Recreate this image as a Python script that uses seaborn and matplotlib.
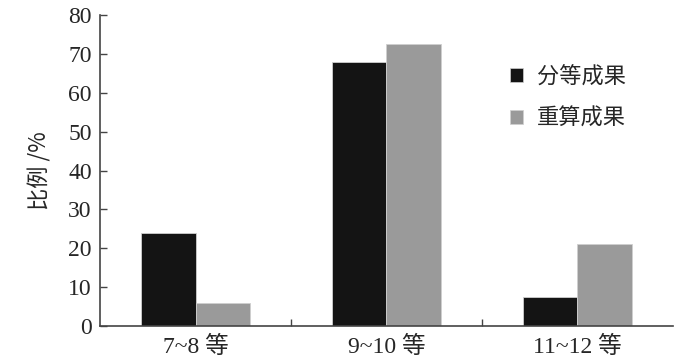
import pandas as pd
import matplotlib
matplotlib.use('Agg')
import matplotlib.pyplot as plt
import seaborn as sns
from matplotlib.patches import Patch
from matplotlib.ticker import FixedLocator

# Data
categories = ['7~8 等', '9~10 等', '11~12 等']
series_names = ['分等成果', '重算成果']
fendeng = [24.0, 68.0, 7.5]
chongsuan = [5.8, 72.6, 21.1]
bar_colors = ['#141414', '#9a9a9a']

df = pd.DataFrame({
    'cat': categories * 2,
    'value': fendeng + chongsuan,
    'series': [series_names[0]] * 3 + [series_names[1]] * 3,
})

sns.set_theme(style='white')
plt.rcParams['font.family'] = ['Noto Sans CJK SC', 'DejaVu Sans']

fig = plt.figure(figsize=(7, 3.62), dpi=100)
ax = fig.add_axes([0.143, 0.0995, 0.818, 0.859])

sns.barplot(data=df, x='cat', y='value', hue='series', palette=bar_colors,
            width=0.57, saturation=1, ax=ax, legend=False,
            edgecolor='#cfcfcf', linewidth=0.6)

ax.set_xlim(-0.5, 2.5)
ax.set_ylim(0, 80)
ax.set_yticks(range(0, 81, 10))
ax.set_xlabel('')
ax.set_ylabel('比例 /%', fontsize=16, labelpad=12)

serif = ['Liberation Serif', 'Noto Sans CJK SC']
for lab in ax.get_yticklabels():
    lab.set_family(serif)
    lab.set_fontsize(17)
for lab in ax.get_xticklabels():
    lab.set_family(serif)
    lab.set_fontsize(17)

ax.xaxis.set_minor_locator(FixedLocator([0.5, 1.5]))
ax.tick_params(axis='x', which='major', bottom=True, length=0, pad=7)
ax.tick_params(axis='x', which='minor', bottom=True, direction='in', length=5, width=1, color='#444444')
ax.tick_params(axis='y', which='major', left=True, direction='in', length=5, width=1, color='#444444', pad=6)

for side in ['top', 'right']:
    ax.spines[side].set_visible(False)
for side in ['left', 'bottom']:
    ax.spines[side].set_color('#444444')
    ax.spines[side].set_linewidth(1.2)

handles = [Patch(facecolor=c, edgecolor='#cfcfcf', linewidth=0.5) for c in bar_colors]
ax.legend(handles, series_names, loc='upper left', bbox_to_anchor=(0.7, 0.875),
          bbox_transform=fig.transFigure, frameon=False, fontsize=16,
          handlelength=0.6, handleheight=0.6, handletextpad=0.6, labelspacing=0.85)

fig.savefig('out.png', dpi=100)
